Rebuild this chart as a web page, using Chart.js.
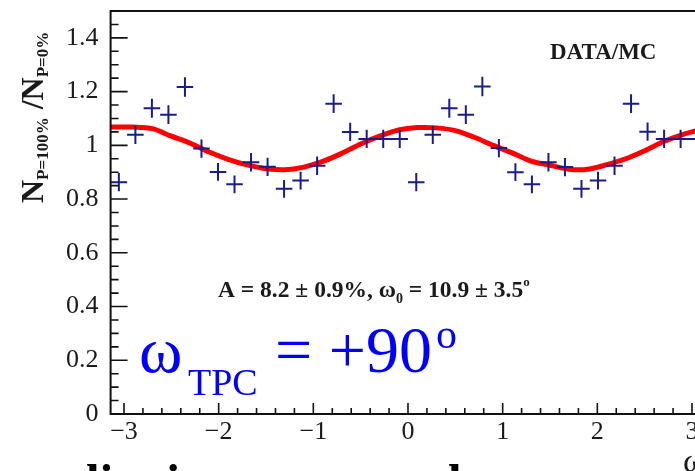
<!DOCTYPE html>
<html>
<head>
<meta charset="utf-8">
<script src="https://cdn.jsdelivr.net/npm/chart.js@4.4.1/dist/chart.umd.min.js"></script>
<style>
  html, body { margin: 0; padding: 0; background: #fff; overflow: hidden; }
  #wrap { position: relative; width: 720px; height: 471px; }
</style>
</head>
<body>
<div id="wrap"><canvas id="chart" width="720" height="471"></canvas></div>
<script>
// 10 degree bins, centres in degrees
const binDeg = [-175, -165, -155, -145, -135, -125, -115, -105, -95, -85, -75, -65,
  -55, -45, -35, -25, -15, -5, 5, 15, 25, 35, 45, 55,
  65, 75, 85, 95, 105, 115, 125, 135, 145, 155, 165, 175];
const binHalfDeg = 5;

// N(P=100%) / N(P=0%) per bin
const ratio = [0.863, 1.039, 1.138, 1.114, 1.217, 0.988, 0.901, 0.855, 0.937, 0.920, 0.838, 0.869,
  0.924, 1.155, 1.050, 1.024, 1.024, 1.024, 0.863, 1.039, 1.138, 1.114, 1.219, 0.990,
  0.900, 0.855, 0.937, 0.919, 0.838, 0.869, 0.924, 1.155, 1.051, 1.024, 1.024, 1.024];
const ratioErr = [0.034, 0.034, 0.035, 0.035, 0.036, 0.034, 0.033, 0.033, 0.034, 0.034, 0.033, 0.033,
  0.034, 0.035, 0.034, 0.034, 0.034, 0.034, 0.034, 0.034, 0.035, 0.035, 0.036, 0.034,
  0.033, 0.033, 0.034, 0.034, 0.033, 0.033, 0.034, 0.035, 0.034, 0.034, 0.034, 0.034];

// fit curve samples (rad, ratio)
const fitX = [-3.14, -2.9, -2.7, -2.5, -2.3, -2.1, -1.9, -1.7, -1.5, -1.3, -1.1, -0.9, -0.7, -0.5, -0.3, -0.1,
  0.1, 0.3, 0.5, 0.7, 0.9, 1.1, 1.3, 1.5, 1.7, 1.9, 2.1, 2.3, 2.5, 2.7, 2.9, 3.14];
const fitY = [1.068, 1.068, 1.062, 1.034, 1.008, 0.975, 0.948, 0.927, 0.913, 0.909, 0.919, 0.940, 0.970, 1.005, 1.034, 1.057,
  1.066, 1.065, 1.055, 1.030, 1.000, 0.972, 0.941, 0.926, 0.911, 0.911, 0.928, 0.950, 0.980, 1.014, 1.040, 1.064];

const xTickVals = [-3, -2, -1, 0, 1, 2, 3];
const yTickVals = [0, 0.2, 0.4, 0.6, 0.8, 1.0, 1.2, 1.4];

const toRad = d => d * Math.PI / 180;
const SERIF = "'Liberation Serif', 'Times New Roman', serif";
const crossColor = "#1b1b8c";

// blue crosses: bin width horizontally, error vertically
const errorBars = {
  id: "errorBars",
  afterDatasetsDraw(chart) {
    const ctx = chart.ctx, xs = chart.scales.x, ys = chart.scales.y;
    ctx.save();
    ctx.strokeStyle = crossColor;
    ctx.lineWidth = 2;
    ctx.beginPath();
    for (let i = 0; i < binDeg.length; i++) {
      let x0 = xs.getPixelForValue(toRad(binDeg[i] - binHalfDeg));
      let x1 = xs.getPixelForValue(toRad(binDeg[i] + binHalfDeg));
      let xc = xs.getPixelForValue(toRad(binDeg[i]));
      let yc = ys.getPixelForValue(ratio[i]);
      let y0 = ys.getPixelForValue(ratio[i] - ratioErr[i]);
      let y1 = ys.getPixelForValue(ratio[i] + ratioErr[i]);
      ctx.moveTo(x0, yc); ctx.lineTo(x1, yc);
      ctx.moveTo(xc, y0); ctx.lineTo(xc, y1);
    }
    ctx.stroke();
    ctx.restore();
  }
};

// frame with ticks pointing inward
const frame = {
  id: "frame",
  afterDraw(chart) {
    const ctx = chart.ctx, a = chart.chartArea, xs = chart.scales.x, ys = chart.scales.y;
    ctx.save();
    ctx.strokeStyle = "#111";
    ctx.lineWidth = 2;
    ctx.strokeRect(a.left, a.top, a.right - a.left, a.bottom - a.top);
    ctx.lineWidth = 1.6;
    ctx.beginPath();
    for (let k = -15; k <= 15; k++) {
      let v = k * 0.2;
      let px = xs.getPixelForValue(v);
      let len = (k % 5 === 0) ? 11 : 6;
      ctx.moveTo(px, a.bottom); ctx.lineTo(px, a.bottom - len);
    }
    for (let k = 0; k <= 30; k++) {
      let v = k * 0.05;
      let py = ys.getPixelForValue(v);
      let len = (k % 4 === 0) ? 17 : 8;
      ctx.moveTo(a.left, py); ctx.lineTo(a.left + len, py);
    }
    ctx.stroke();
    ctx.restore();
  }
};

function drawPieces(ctx, x, y, pieces) {
  for (const p of pieces) {
    ctx.font = p.f;
    ctx.fillText(p.t, x, y + (p.dy || 0));
    x += ctx.measureText(p.t).width;
  }
}

// titles and labels
const labels = {
  id: "labels",
  afterDraw(chart) {
    const ctx = chart.ctx;
    ctx.save();
    ctx.textBaseline = "alphabetic";
    ctx.textAlign = "left";
    ctx.fillStyle = "#1a1a1a";

    ctx.font = "bold 23px " + SERIF;
    ctx.fillText("DATA/MC", 550, 59);

    drawPieces(ctx, 218, 297, [
      { t: "A = 8.2 \u00b1 0.9%, \u03c9", f: "bold 23.5px " + SERIF },
      { t: "0", f: "bold 14px " + SERIF, dy: 6 },
      { t: " = 10.9 \u00b1 3.5", f: "bold 23.5px " + SERIF },
      { t: "o", f: "bold 13px " + SERIF, dy: -11 }
    ]);

    // y title, rotated
    ctx.save();
    ctx.translate(43, 203);
    ctx.rotate(-Math.PI / 2);
    drawPieces(ctx, 0, 0, [
      { t: "N", f: "bold 32px " + SERIF },
      { t: "P=100%", f: "bold 17px " + SERIF, dy: 5 },
      { t: " /N", f: "bold 32px " + SERIF },
      { t: "P=0%", f: "bold 17px " + SERIF, dy: 5 }
    ]);
    ctx.restore();

    // x title, mostly beyond the edge
    ctx.font = "34px " + SERIF;
    ctx.fillText("\u03c9", 683, 472);

    // next line of the page, only its top shows
    ctx.fillStyle = "#000";
    ctx.font = "bold 49px " + SERIF;
    ctx.fillText("lies in a common lane across", 86, 498);

    // blue label
    ctx.fillStyle = "#0000ff";
    ctx.font = "66px " + SERIF;
    ctx.fillText("\u03c9", 139, 372);
    ctx.font = "38px " + SERIF;
    ctx.fillText("TPC", 188, 395);
    ctx.font = "66px " + SERIF;
    ctx.fillText("= +90", 275, 372);
    ctx.font = "42px " + SERIF;
    ctx.fillText("o", 436, 348);
    ctx.restore();
  }
};

new Chart(document.getElementById("chart"), {
  type: "scatter",
  data: {
    datasets: [
      {
        type: "line",
        data: fitX.map((x, i) => ({ x: x, y: fitY[i] })),
        borderColor: "#ff0000",
        borderWidth: 5,
        borderJoinStyle: "round",
        pointRadius: 0,
        tension: 0.3
      },
      {
        data: binDeg.map((d, i) => ({ x: toRad(d), y: ratio[i] })),
        pointRadius: 0,
        showLine: false
      }
    ]
  },
  options: {
    responsive: false,
    animation: false,
    devicePixelRatio: 1,
    layout: { padding: { top: 11, right: 14.6, left: 0, bottom: 0 } },
    plugins: { legend: { display: false }, tooltip: { enabled: false } },
    scales: {
      x: {
        type: "linear",
        min: -Math.PI,
        max: Math.PI,
        afterBuildTicks: s => { s.ticks = xTickVals.map(v => ({ value: v })); },
        afterFit: s => { s.height = 57; s.paddingLeft = 0; s.paddingRight = 0; },
        grid: { display: false, drawTicks: false },
        border: { display: false },
        ticks: {
          autoSkip: false,
          maxRotation: 0,
          padding: 3,
          color: "#1a1a1a",
          font: { family: SERIF, size: 26 },
          callback: v => v < 0 ? "\u2212" + (-v) : String(v)
        }
      },
      y: {
        min: 0,
        max: 1.5,
        afterBuildTicks: s => { s.ticks = yTickVals.map(v => ({ value: v })); },
        afterFit: s => { s.width = 110.6; s.paddingTop = 0; s.paddingBottom = 0; },
        grid: { display: false, drawTicks: false },
        border: { display: false },
        ticks: {
          padding: 12,
          color: "#1a1a1a",
          font: { family: SERIF, size: 26 },
          callback: v => String(+v.toFixed(1))
        }
      }
    }
  },
  plugins: [errorBars, frame, labels]
});
</script>
</body>
</html>
